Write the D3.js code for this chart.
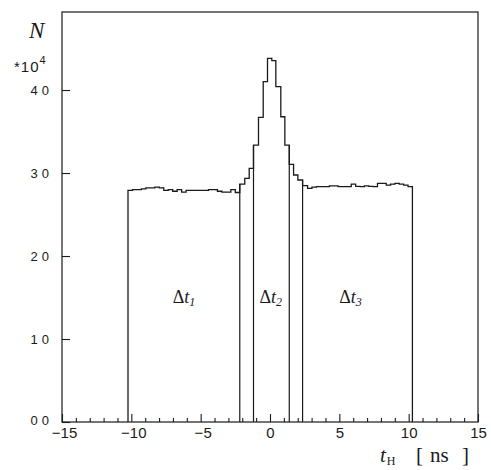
<!DOCTYPE html>
<html><head><meta charset="utf-8">
<script src="https://cdn.jsdelivr.net/npm/d3@7"></script>
<style>
html,body{margin:0;padding:0;background:#fff;}
svg{display:block;}
text{fill:#1a1a1a;}
</style></head>
<body>
<svg id="chart" width="491" height="470"></svg>
<script>
// ---- data ----
const binEdges = [
  -10.24, -9.918, -9.595, -9.273, -8.95, -8.628, -8.306, -7.983, -7.661, -7.338,
  -7.016, -6.694, -6.371, -6.049, -5.726, -5.404, -5.082, -4.759, -4.437, -4.114,
  -3.792, -3.47, -3.147, -2.825, -2.502, -2.18,
  -1.82, -1.50, -1.19, -0.83, -0.49, -0.18, 0.13, 0.42, 0.78, 1.07, 1.39, 1.70, 2.01, 2.35, 2.71,
  3.025, 3.34, 3.655, 3.97, 4.285, 4.60, 4.915, 5.23, 5.545, 5.86, 6.175, 6.49, 6.805,
  7.12, 7.435, 7.75, 8.065, 8.38, 8.695, 9.01, 9.325, 9.64, 9.955, 10.27
];
const binCounts = [
  27.9, 28.0, 28.0, 28.1, 28.2, 28.2, 28.3, 28.2, 27.9, 28.0,
  27.8, 28.0, 27.7, 27.9, 27.9, 27.9, 27.9, 27.9, 28.0, 28.0,
  27.8, 27.7, 27.7, 28.0, 27.65,
  28.67, 29.36, 30.57, 33.37, 36.71, 41.0, 43.82, 43.53, 40.4, 36.78, 33.37, 31.05, 29.76, 29.16, 28.47,
  28.15, 28.3, 28.35, 28.35, 28.35, 28.45, 28.45, 28.35, 28.35, 28.35, 28.65, 28.4,
  28.35, 28.45, 28.4, 28.35, 28.75, 28.75, 28.55, 28.65, 28.75, 28.65, 28.55, 28.35
];
const cutPositions = [-2.18, -1.19, 1.39, 2.35];
const regionLabels = [
  {name: "1", at: -6.2},
  {name: "2", at: 0.05},
  {name: "3", at: 5.8}
];
const xMajorTicks = [-15, -10, -5, 0, 5, 10, 15];
const xMinorTicks = d3.range(-15, 16, 1);
const yTicks = [0, 10, 20, 30, 40];
const yExponent = "4";
const xTitle = "t", xTitleSub = "H", xUnit = "ns";
const yTitle = "N";

// ---- layout ----
const svg = d3.select("#chart");
const L = 62, R = 478, T = 12, B = 422;
const x = d3.scaleLinear().domain([-15, 15]).range([L, R]);
const y = d3.scaleLinear().domain([0, 49.4]).range([B, T]);
const ink = "#1a1a1a";

// histogram outline
const pts = [[binEdges[0], 0]];
binCounts.forEach((c, i) => pts.push([binEdges[i], c]));
pts.push([binEdges[binEdges.length - 1], binCounts[binCounts.length - 1]]);
pts.push([binEdges[binEdges.length - 1], 0]);
const line = d3.line().x(d => x(d[0])).y(d => y(d[1])).curve(d3.curveStepAfter);
svg.append("path").attr("d", line(pts))
  .attr("fill", "none").attr("stroke", ink).attr("stroke-width", 1.3);

// cut lines
cutPositions.forEach(cp => {
  let idx = 0, best = 1e9;
  binEdges.forEach((e, i) => { if (Math.abs(e - cp) < best) { best = Math.abs(e - cp); idx = i; } });
  const h = Math.max(binCounts[idx - 1] ?? 0, binCounts[idx] ?? 0);
  svg.append("line")
    .attr("x1", x(binEdges[idx])).attr("x2", x(binEdges[idx]))
    .attr("y1", y(h)).attr("y2", y(0))
    .attr("stroke", ink).attr("stroke-width", 1.2);
});

// frame
svg.append("rect").attr("x", L).attr("y", T).attr("width", R - L).attr("height", B - T)
  .attr("fill", "none").attr("stroke", ink).attr("stroke-width", 1.2);

// x axis
const xAx = svg.append("g").attr("transform", `translate(0,${B})`)
  .call(d3.axisBottom(x).tickValues(xMajorTicks).tickSize(-8).tickPadding(5)
    .tickFormat(d3.format("d")));
xAx.select(".domain").remove();
xAx.selectAll(".tick line").attr("stroke", ink).attr("stroke-width", 1.1);
xAx.selectAll("text").attr("font-family", "'Liberation Sans', Arial, sans-serif")
  .attr("font-size", 15).attr("fill", ink)
  .attr("dx", d => d < 0 ? 2 : 0);

const xMin = svg.append("g").attr("transform", `translate(0,${B})`)
  .call(d3.axisBottom(x).tickValues(xMinorTicks.filter(v => !xMajorTicks.includes(v)))
    .tickSize(-4).tickFormat(""));
xMin.select(".domain").remove();
xMin.selectAll(".tick line").attr("stroke", ink).attr("stroke-width", 1.1);

// y axis
const yAx = svg.append("g").attr("transform", `translate(${L},0)`)
  .call(d3.axisLeft(y).tickValues(yTicks).tickSize(-8).tickPadding(13)
    .tickFormat(d => String(d).padStart(2, "0")));
yAx.select(".domain").remove();
yAx.selectAll(".tick line").attr("stroke", ink).attr("stroke-width", 1.1);
yAx.selectAll("text").attr("font-family", "'Liberation Sans', Arial, sans-serif")
  .attr("font-size", 13).attr("fill", ink).attr("letter-spacing", "4px").attr("dx", "4px")
  .attr("dy", (d) => d === 0 ? "0.2em" : "0.32em");

// exponent label
const ex = svg.append("text").attr("x", 14).attr("y", 72)
  .attr("font-family", "'Liberation Sans', Arial, sans-serif").attr("font-size", 15);
ex.append("tspan").text("*10").attr("letter-spacing", "1px");
ex.append("tspan").text(yExponent).attr("font-size", 11).attr("dy", -8);

// y title
svg.append("text").attr("x", 29).attr("y", 38)
  .attr("font-family", "'Liberation Serif', 'Times New Roman', serif")
  .attr("font-style", "italic").attr("font-size", 23).text(yTitle);

// x title
const xt = svg.append("text").attr("x", 380).attr("y", 462)
  .attr("font-family", "'Liberation Serif', 'Times New Roman', serif").attr("font-size", 21);
xt.append("tspan").text(xTitle).attr("font-style", "italic");
xt.append("tspan").text(xTitleSub).attr("font-size", 12).attr("dy", 3).attr("dx", 1);
xt.append("tspan").text("[").attr("x", 416).attr("dy", -3);
xt.append("tspan").text(xUnit).attr("x", 430);
xt.append("tspan").text("]").attr("x", 462);

// region labels
regionLabels.forEach(r => {
  const t = svg.append("text").attr("x", x(r.at)).attr("y", 303).attr("text-anchor", "middle")
    .attr("font-family", "'Liberation Serif', 'Times New Roman', serif").attr("font-size", 18);
  t.append("tspan").text("Δ");
  t.append("tspan").text("t").attr("font-style", "italic");
  t.append("tspan").text(r.name).attr("font-style", "italic").attr("font-size", 12).attr("dy", 3);
});
</script>
</body></html>
